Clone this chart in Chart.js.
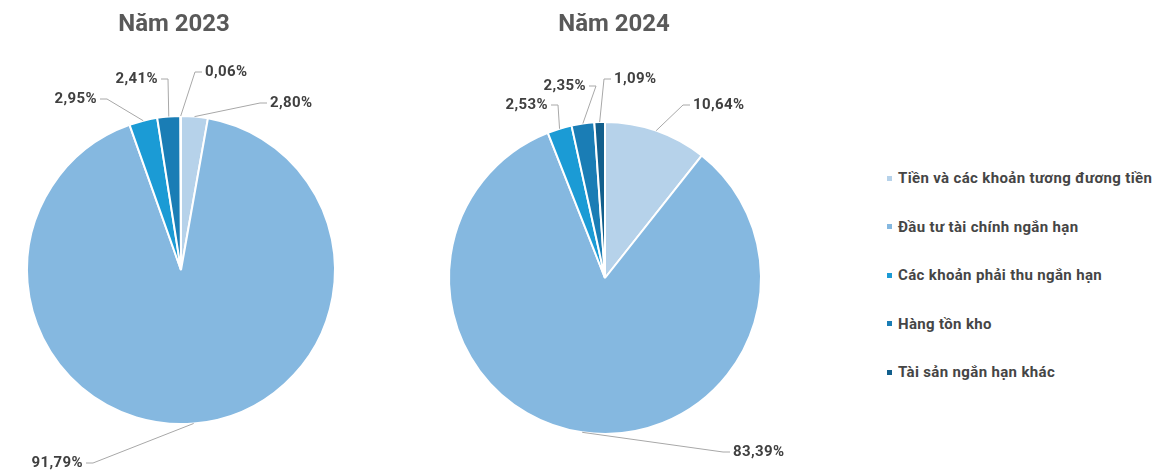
<!DOCTYPE html>
<html>
<head>
<meta charset="utf-8">
<script src="https://cdn.jsdelivr.net/npm/chart.js@4/dist/chart.umd.min.js"></script>
<style>
  body { margin: 0; background: #fff; width: 1176px; height: 473px; position: relative; overflow: hidden; font-family: Roboto, sans-serif; }
  canvas { position: absolute; top: 0; }
  #c2023 { left: 0; }
  #c2024 { left: 420px; }
  #legend { position: absolute; left: 887px; top: 154px; list-style: none; margin: 0; padding: 0; }
  #legend li { height: 48.5px; display: flex; align-items: center; font-weight: bold; font-size: 15px; letter-spacing: 0.35px; color: #454545; }
  #legend .box { width: 5px; height: 5px; margin-right: 6px; }
</style>
</head>
<body>
<canvas id="c2023" width="400" height="473"></canvas>
<canvas id="c2024" width="370" height="473"></canvas>
<ul id="legend"></ul>

<script>
const categories = [
  'Tiền và các khoản tương đương tiền',
  'Đầu tư tài chính ngắn hạn',
  'Các khoản phải thu ngắn hạn',
  'Hàng tồn kho',
  'Tài sản ngắn hạn khác'
];
const share2023 = [2.80, 91.79, 2.95, 2.41, 0.06];
const share2024 = [10.64, 83.39, 2.53, 2.35, 1.09];

const colors = ['#b6d2ea', '#85b8e0', '#1b9bd5', '#1a7db5', '#125f8c'];

// label spots relative to pie centre: [dx, dy, side]  side 1 = text right of line
const spots2023 = [[89, -167, 1], [-98, 193, -1], [-84, -171, -1], [-23, -191, -1], [24, -198, 1]];
const spots2024 = [[88, -173, 1], [128, 174, 1], [-57, -173, -1], [-19, -192, -1], [9, -199, 1]];

const fmt = v => v.toFixed(2).replace('.', ',') + '%';

const sliceLabels = {
  id: 'sliceLabels',
  afterDraw(chart, args, opts) {
    const ctx = chart.ctx;
    const arcs = chart.getDatasetMeta(0).data;
    const values = chart.data.datasets[0].data;
    const cx = arcs[0].x, cy = arcs[0].y;

    ctx.save();
    ctx.font = 'bold 24px Roboto';
    ctx.fillStyle = '#595959';
    ctx.textAlign = 'center';
    ctx.textBaseline = 'alphabetic';
    ctx.fillText(opts.title, cx + opts.titleDx, 31);

    ctx.font = 'bold 15px Roboto';
    ctx.letterSpacing = '0.4px';
    ctx.fillStyle = '#404040';
    ctx.strokeStyle = '#a8a8a8';
    ctx.lineWidth = 1;
    ctx.textBaseline = 'middle';
    arcs.forEach((arc, i) => {
      const [dx, dy, side] = opts.spots[i];
      const mid = (arc.startAngle + arc.endAngle) / 2;
      const ax = arc.x + Math.cos(mid) * arc.outerRadius;
      const ay = arc.y + Math.sin(mid) * arc.outerRadius;
      const tx = cx + dx, ty = cy + dy;
      ctx.beginPath();
      ctx.moveTo(ax, ay);
      ctx.lineTo(tx - side * 10, ty);
      ctx.lineTo(tx - side * 3, ty);
      ctx.stroke();
      ctx.textAlign = side > 0 ? 'left' : 'right';
      ctx.fillText(fmt(values[i]), tx, ty);
    });
    ctx.restore();
  }
};

function makePie(id, values, title, titleDx, spots, padding) {
  return new Chart(document.getElementById(id), {
    type: 'pie',
    data: {
      labels: categories,
      datasets: [{
        data: values,
        backgroundColor: colors,
        borderColor: '#ffffff',
        borderWidth: 2
      }]
    },
    options: {
      responsive: false,
      animation: false,
      events: [],
      layout: { padding: padding },
      plugins: {
        legend: { display: false },
        tooltip: { enabled: false },
        sliceLabels: { title: title, titleDx: titleDx, spots: spots }
      }
    },
    plugins: [sliceLabels]
  });
}

makePie('c2023', share2023, 'Năm 2023', -7, spots2023, { left: 26, right: 64, top: 115, bottom: 48 });
makePie('c2024', share2024, 'Năm 2024', 9, spots2024, { left: 28, right: 28, top: 121, bottom: 38 });

// legend
const legend = document.getElementById('legend');
categories.forEach((name, i) => {
  const li = document.createElement('li');
  const box = document.createElement('span');
  box.className = 'box';
  box.style.background = colors[i];
  li.appendChild(box);
  li.appendChild(document.createTextNode(name));
  legend.appendChild(li);
});
</script>
</body>
</html>
